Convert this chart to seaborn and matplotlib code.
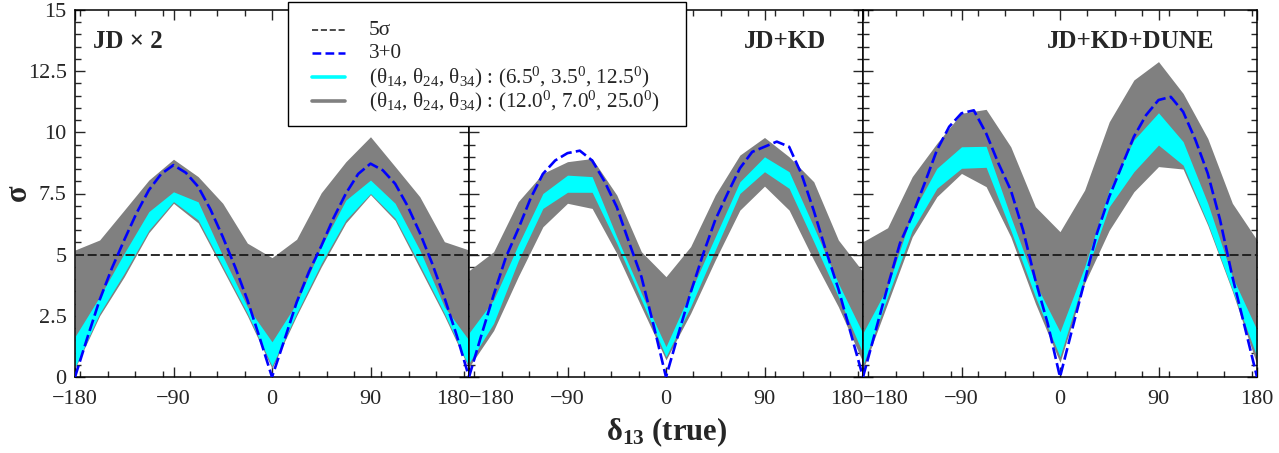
import matplotlib
matplotlib.use("Agg")
import matplotlib.pyplot as plt
from matplotlib.lines import Line2D
from matplotlib.patches import Rectangle
from matplotlib.ticker import FixedLocator, MultipleLocator, FuncFormatter
import numpy as np
import seaborn as sns

# ----- Data -----

delta_band = [-180, -157.5, -135, -112.5, -90, -67.5, -45, -22.5, 0,
              22.5, 45, 67.5, 90, 112.5, 135, 157.5, 180]
delta_std = [-180, -168.75, -157.5, -146.25, -135, -123.75, -112.5, -101.25, -90,
             -78.75, -67.5, -56.25, -45, -33.75, -22.5, -11.25, 0,
             11.25, 22.5, 33.75, 45, 56.25, 67.5, 78.75, 90,
             101.25, 112.5, 123.75, 135, 146.25, 157.5, 168.75, 180]

panel_titles = ["JD × 2", "JD+KD", "JD+KD+DUNE"]

# JD x 2
jd2_grey_hi = [5.19, 5.6, 6.82, 8.05, 8.9, 8.19, 7.1, 5.47, 4.88, 5.63, 7.53, 8.8, 9.82, 8.6, 7.37, 5.53, 5.19]
jd2_grey_lo = [0.35, 2.5, 4.1, 5.9, 7.1, 6.3, 4.4, 2.5, 0.35, 2.5, 4.5, 6.3, 7.45, 6.4, 4.45, 2.5, 0.35]
jd2_cyan_hi = [1.65, 3.28, 5.06, 6.76, 7.57, 7.16, 4.95, 2.87, 1.44, 3.02, 5.33, 7.23, 8.05, 7.1, 5.19, 2.87, 1.5]
jd2_cyan_lo = [0.4, 2.6, 4.24, 6.0, 7.17, 6.42, 4.51, 2.6, 0.45, 2.6, 4.64, 6.42, 7.5, 6.49, 4.58, 2.6, 0.42]
jd2_std = [0, 1.6, 3.15, 4.45, 5.6, 6.7, 7.64, 8.3, 8.66, 8.35, 7.78, 6.85, 5.73, 4.5, 3.15, 1.6, 0,
           1.5, 3.05, 4.3, 5.35, 6.5, 7.5, 8.3, 8.72, 8.45, 7.9, 7.0, 5.9, 4.65, 3.25, 1.7, 0]

# JD+KD
jdkd_grey_hi = [4.35, 5.12, 7.17, 8.32, 8.8, 8.93, 7.44, 5.12, 4.1, 5.33, 7.44, 9.07, 9.79, 9.0, 7.98, 5.6, 4.3]
jdkd_grey_lo = [0.4, 1.9, 4.1, 6.14, 7.1, 6.89, 5.05, 2.87, 0.7, 2.6, 4.78, 6.82, 7.8, 6.82, 4.78, 2.87, 0.6]
jdkd_cyan_hi = [1.8, 3.15, 5.4, 7.5, 8.25, 8.19, 5.73, 3.42, 1.24, 3.49, 5.73, 7.98, 9.0, 8.39, 6.14, 3.83, 1.78]
jdkd_cyan_lo = [0.57, 2.19, 4.75, 6.89, 7.55, 7.55, 5.46, 3.15, 0.83, 2.87, 5.19, 7.5, 8.39, 7.71, 5.53, 3.28, 0.97]
jdkd_std = [0, 1.7, 3.35, 4.9, 6.05, 7.3, 8.3, 8.85, 9.15, 9.25, 8.85, 8.0, 6.95, 5.5, 4.1, 2.1, 0,
            1.75, 3.45, 5.0, 6.42, 7.5, 8.53, 9.2, 9.41, 9.62, 9.41, 8.3, 6.8, 5.15, 3.6, 1.8, 0]

# JD+KD+DUNE
dune_grey_hi = [5.53, 6.1, 8.19, 9.55, 10.78, 10.94, 9.41, 6.96, 5.94, 7.64, 10.43, 12.14, 12.89, 11.59, 9.75, 7.1, 5.6]
dune_grey_lo = [0.3, 3.01, 5.73, 7.37, 8.32, 7.78, 5.73, 3.01, 0.6, 3.83, 6.0, 7.57, 8.6, 8.5, 6.2, 3.5, 0.5]
dune_cyan_hi = [1.8, 3.69, 6.69, 8.53, 9.41, 9.43, 6.55, 3.83, 1.85, 4.5, 7.64, 9.69, 10.8, 9.62, 7.1, 4.1, 1.92]
dune_cyan_lo = [0.5, 3.28, 6.0, 7.71, 8.53, 8.57, 6.0, 3.28, 0.83, 4.1, 6.96, 8.39, 9.48, 8.66, 6.28, 3.56, 0.83]
dune_std = [0, 1.85, 3.69, 5.46, 6.6, 7.91, 9.27, 10.23, 10.78, 10.9, 9.96, 8.73, 7.64, 6.0, 3.96, 2.19, 0,
            1.97, 3.92, 5.87, 7.37, 8.6, 9.82, 10.71, 11.32, 11.45, 10.84, 9.69, 8.32, 6.42, 4.1, 2.06, 0]

five_sigma = 5.0

legend_labels = [
    "5σ",
    "3+0",
    r"(θ$_{14}$, θ$_{24}$, θ$_{34}$) : (6.5$^{0}$, 3.5$^{0}$, 12.5$^{0}$)",
    r"(θ$_{14}$, θ$_{24}$, θ$_{34}$) : (12.0$^{0}$, 7.0$^{0}$, 25.0$^{0}$)",
]

panels = [
    (jd2_grey_lo, jd2_grey_hi, jd2_cyan_lo, jd2_cyan_hi, jd2_std),
    (jdkd_grey_lo, jdkd_grey_hi, jdkd_cyan_lo, jdkd_cyan_hi, jdkd_std),
    (dune_grey_lo, dune_grey_hi, dune_cyan_lo, dune_cyan_hi, dune_std),
]

# ----- Style -----

sns.set_style("ticks")
plt.rcParams['font.family'] = ['Liberation Serif', 'DejaVu Serif']
plt.rcParams['mathtext.fontset'] = 'custom'
plt.rcParams['mathtext.rm'] = 'Liberation Serif'
plt.rcParams['mathtext.it'] = 'Liberation Serif:italic'
plt.rcParams['mathtext.bf'] = 'Liberation Serif:bold'
plt.rcParams['mathtext.default'] = 'regular'
plt.rcParams['axes.unicode_minus'] = True

grey_col = '#808080'
cyan_col = '#00ffff'
blue_col = '#0000ff'
line_black = '#1a1a1a'

W, H = 1279, 453
fig, axs = plt.subplots(nrows = 1, ncols = 3, sharey = True, figsize = (W / 100, H / 100), dpi = 100)
plt.subplots_adjust(left = 75 / W, right = 1257 / W, top = 1 - 10 / H, bottom = 1 - 377 / H, wspace = 0.0)

def px(x, y):
    # pixel position (from top-left) -> figure fraction
    return x / W, 1 - y / H

title_x = [(93, 'left'), (826, 'right'), (1214, 'right')]

for i, (ax, data) in enumerate(zip(axs, panels)):
    grey_lo, grey_hi, cyan_lo, cyan_hi, std = data

    ax.fill_between(delta_band, grey_lo, grey_hi, color = grey_col, linewidth = 0, zorder = 1)
    ax.fill_between(delta_band, cyan_lo, cyan_hi, color = cyan_col, linewidth = 0, zorder = 2)

    ax.axhline(five_sigma, color = line_black, linewidth = 1.3, dashes = (5, 2), zorder = 3)
    sns.lineplot(x = delta_std, y = std, ax = ax, color = blue_col, linewidth = 1.9,
                 dashes = False, zorder = 4).lines[-1].set_dashes((4.5, 1.6))

    # -- Axes --

    ax.set_xlim(-180, 180); ax.set_ylim(0, 15)
    ax.xaxis.set_major_locator(FixedLocator([-180, -90, 0, 90, 180]))
    ax.xaxis.set_minor_locator(FixedLocator(np.arange(-175, 180, 25)))
    ax.yaxis.set_major_locator(MultipleLocator(2.5))
    ax.yaxis.set_minor_locator(MultipleLocator(0.5))
    ax.yaxis.set_major_formatter(FuncFormatter(lambda v, p: '%g' % v))

    ax.tick_params(which = 'both', direction = 'in', top = True, right = True, width = 1.0, labelsize = 16)
    ax.tick_params(axis = 'x', pad = 9)
    ax.tick_params(axis = 'y', pad = 6)
    ax.tick_params(which = 'major', length = 7)
    ax.tick_params(which = 'minor', length = 4)
    if i > 0:
        ax.tick_params(labelleft = False)

    # shift the labels where two panels meet, so that they sit side by side
    xt = ax.xaxis.get_major_ticks()
    if i > 0:
        xt[0].label1.set_horizontalalignment('left')
    if i < 2:
        xt[-1].label1.set_horizontalalignment('right')

    for sp in ax.spines.values():
        sp.set_linewidth(1.1)
        sp.set_color('black')

    ax.set_xlabel(''); ax.set_ylabel('')

    tx, ha = title_x[i]
    fig.text(*px(tx, 42), panel_titles[i], fontsize = 18, fontweight = 'bold', ha = ha, va = 'center')

# -- Axis labels --

fig.text(*px(667, 432), r"δ$_{\mathbf{13}}$ (true)", fontsize = 22, fontweight = 'bold', ha = 'center', va = 'center')
fig.text(*px(18, 193), "σ", fontsize = 22, fontweight = 'bold', rotation = 90, ha = 'center', va = 'center')

# -- Legend (boxed key, laid out by hand so the rows are evenly spaced) --

x0, y0 = px(288, 126)
x1, y1 = px(686, 2)
fig.add_artist(Rectangle((x0, y0), x1 - x0, y1 - y0, transform = fig.transFigure,
                         facecolor = 'white', edgecolor = 'black', linewidth = 1.0, zorder = 10))

key_styles = [
    dict(color = line_black, linewidth = 1.1, dashes = (4, 1.8)),
    dict(color = blue_col, linewidth = 1.8, dashes = (3.5, 1.7)),
    dict(color = cyan_col, linewidth = 2.6),
    dict(color = grey_col, linewidth = 2.6),
]
row_y = [30, 53, 77, 101]
baseline_y = [35, 58, 83, 107]

for label, style, ry, by in zip(legend_labels, key_styles, row_y, baseline_y):
    xa, ya = px(312, ry)
    xb, _ = px(345, ry)
    fig.add_artist(Line2D([xa, xb], [ya, ya], transform = fig.transFigure, zorder = 11, **style))
    fig.text(*px(369, by), label, fontsize = 15.3, ha = 'left', va = 'baseline', zorder = 11)

fig.savefig('out.png', dpi = 100)
